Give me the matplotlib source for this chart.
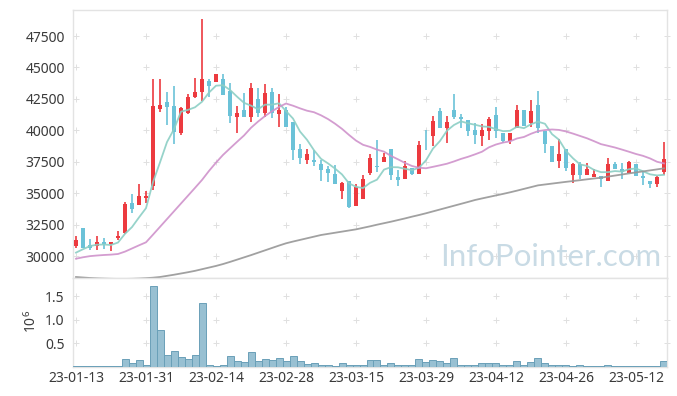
import matplotlib
matplotlib.use("Agg")
import matplotlib.pyplot as plt
import numpy as np
import pandas as pd

# ---------------- data ----------------
opens = [30795, 32203, 30875, 30820, 31090, 30955, 31430, 31805, 34190, 34080,
         34613, 35590, 41690, 42250, 41930, 39810, 41400, 42670, 43045, 43920,
         43865, 44055, 43150, 41080, 41610, 41080, 42490, 41400, 43045, 41300,
         41610, 40660, 38510, 37636, 37636, 37340, 36920, 36545, 35190, 35965,
         34000, 34560, 36600, 37135, 37480, 38510, 36280, 36125, 37020, 36545,
         39490, 39570, 41530, 40200, 41610, 41080, 40820, 40000, 39545, 39970,
         41210, 39810, 39170, 40200, 41610, 40555, 41980, 39940, 38750, 37555,
         38510, 36470, 37320, 36470, 36310, 36390, 35990, 37320, 36920, 36625,
         37320, 36360, 35970, 35700, 36705]
highs = [31590, 32203, 31330, 31590, 31430, 31090, 31960, 34270, 34907, 35727,
         35146, 44080, 44100, 43070, 43520, 41880, 42860, 44170, 48820, 44055,
         44480, 44480, 43735, 41955, 42940, 43735, 43340, 43655, 43340, 42860,
         41820, 40660, 38910, 38490, 38430, 37636, 37180, 37260, 35910, 35965,
         35740, 36440, 38113, 39225, 38195, 38510, 36850, 37550, 37020, 39150,
         40000, 41140, 41770, 41140, 42860, 41320, 40820, 40580, 40500, 41050,
         41850, 39810, 39760, 41980, 41610, 42410, 43130, 39940, 38750, 39280,
         38510, 37370, 37480, 37370, 36900, 36390, 37770, 37480, 37430, 37560,
         37320, 36790, 35970, 36360, 39100]
lows = [30610, 30612, 30477, 30477, 30530, 30400, 31270, 31780, 33396, 34030,
        34240, 35250, 41480, 40400, 38880, 39600, 41300, 42600, 42330, 42670,
        43865, 42810, 40600, 39810, 41080, 40630, 41080, 41030, 40950, 40240,
        40280, 37660, 37290, 37290, 37180, 35990, 35910, 35727, 34530, 33820,
        34000, 34560, 36440, 36660, 37480, 36030, 35560, 36125, 36440, 36545,
        38460, 38750, 40200, 38960, 40900, 40190, 39550, 38940, 38780, 39230,
        39360, 38970, 38900, 40200, 40340, 40290, 39760, 38230, 37500, 37000,
        36760, 35800, 36125, 36470, 36310, 35520, 35990, 36900, 36150, 36625,
        36390, 35620, 35415, 35490, 36470]
closes = [31272, 30612, 30660, 31090, 30930, 31090, 31590, 34136, 33765, 34772,
          34772, 41930, 42010, 41850, 39890, 41750, 42620, 43045, 44055, 43545,
          44480, 42810, 41160, 41400, 41080, 43360, 41400, 42965, 41400, 41610,
          40280, 38430, 37795, 38113, 37450, 36865, 36625, 35727, 35780, 33900,
          35490, 36125, 37795, 37055, 37900, 36470, 36070, 37180, 36545, 38830,
          39440, 40740, 40200, 40660, 41080, 40870, 39970, 39625, 39995, 40900,
          39970, 39170, 39760, 41610, 40340, 41530, 40200, 38910, 37500, 38115,
          37025, 37320, 36470, 36920, 36520, 36125, 37320, 36900, 36705, 37480,
          36390, 36230, 35700, 36260, 37715]
volumes = [0.018, 0.018, 0.018, 0.011, 0.011, 0.011, 0.018, 0.167, 0.067, 0.131,
           0.040, 1.706, 0.770, 0.238, 0.323, 0.195, 0.153, 0.238, 1.344, 0.040,
           0.020, 0.040, 0.216, 0.110, 0.089, 0.302, 0.110, 0.153, 0.131, 0.174,
           0.110, 0.216, 0.110, 0.053, 0.067, 0.025, 0.025, 0.018, 0.067, 0.040,
           0.040, 0.025, 0.131, 0.131, 0.040, 0.067, 0.025, 0.040, 0.025, 0.153,
           0.089, 0.131, 0.110, 0.067, 0.174, 0.040, 0.040, 0.040, 0.067, 0.067,
           0.067, 0.025, 0.025, 0.110, 0.040, 0.089, 0.174, 0.067, 0.040, 0.040,
           0.025, 0.011, 0.025, 0.011, 0.011, 0.011, 0.025, 0.011, 0.005, 0.011,
           0.011, 0.011, 0.011, 0.005, 0.110]
# moving-average values read where the window precedes the shown data
ma5_head = [30270, 30540, 30790, 30900]
ma20_head = [29785, 29900, 29990, 30040, 30080, 30110, 30160, 30350, 30600, 30850,
             31090, 31700, 32320, 32940, 33560, 34180, 34800, 35420, 36050]
ma_long = [28330, 28290, 28250, 28220, 28200, 28185, 28175, 28175, 28185, 28205,
           28235, 28275, 28330, 28420, 28510, 28610, 28710, 28820, 28950, 29080,
           29210, 29360, 29530, 29710, 29890, 30070, 30260, 30450, 30640, 30830,
           31010, 31150, 31280, 31410, 31540, 31670, 31760, 31850, 31940, 32030,
           32120, 32240, 32360, 32490, 32610, 32730, 32860, 32990, 33130, 33260,
           33400, 33550, 33700, 33850, 34000, 34150, 34300, 34455, 34580, 34700,
           34820, 34940, 35065, 35200, 35340, 35480, 35620, 35690, 35760, 35830,
           35900, 35965, 36030, 36100, 36165, 36230, 36315, 36400, 36485, 36570,
           36650, 36730, 36810, 36890, 36975]
tick_labels = ["23-01-13", "23-01-31", "23-02-14", "23-02-28", "23-03-15",
               "23-03-29", "23-04-12", "23-04-26", "23-05-12"]
price_ticks = [30000, 32500, 35000, 37500, 40000, 42500, 45000, 47500]
vol_ticks = [0.5, 1.0, 1.5]

# ---------------- derived ----------------
n = len(closes)
idx = np.arange(n)
cs = pd.Series(closes, dtype=float)
ma5 = cs.rolling(5).mean().to_numpy()
ma5[:len(ma5_head)] = ma5_head
ma20 = cs.rolling(20).mean().to_numpy()
ma20[:len(ma20_head)] = ma20_head
xt = np.arange(0, 10 * len(tick_labels), 10)

# ---------------- style ----------------
UP = "#ec3a3f"
DOWN = "#6bc2d8"
FRAME = "#e3e3e3"
TXT = "#3a3a3a"
FONT = "Noto Sans"

W, H = 677, 396
fig = plt.figure(figsize=(W / 100, H / 100), dpi=100)
L, R = 73, 667
T_main, B_main, B_vol = 10, 278, 366.5
ax = fig.add_axes([L / W, (H - B_main) / H, (R - L) / W, (B_main - T_main) / H])
axv = fig.add_axes([L / W, (H - B_vol) / H, (R - L) / W, (B_vol - B_main) / H])

xlim = (-0.43, 84.43)
for a in (ax, axv):
    a.set_xlim(*xlim)
    for s in a.spines.values():
        s.set_color(FRAME)
        s.set_linewidth(1.0)
    a.tick_params(length=0, colors=TXT)

ax.set_ylim(28250, 49570)
axv.set_ylim(0, 1.883)

# grid crosses
gx = list(xt) + [xlim[1]]
for a, yt in ((ax, price_ticks), (axv, vol_ticks)):
    X, Y = np.meshgrid(gx, yt)
    a.scatter(X.ravel(), Y.ravel(), marker="+", s=18, color="#e0e0e0",
              linewidths=0.7, zorder=0, clip_on=False)

# candles
colors = [UP if c >= o else DOWN for o, c in zip(opens, closes)]
ax.vlines(idx, lows, highs, colors=colors, linewidth=1.2, zorder=3)
bottoms = np.minimum(opens, closes)
heights = np.maximum(np.abs(np.array(closes) - np.array(opens)), 50)
ax.bar(idx, heights, bottom=bottoms, width=0.7, color=colors, linewidth=0, zorder=4)

# moving averages
ax.plot(idx, ma5, color="#8ccfc5", lw=1.3, alpha=0.9, zorder=5)
ax.plot(idx, ma20, color="#cf92cb", lw=1.3, alpha=0.9, zorder=5)
ax.plot(idx, ma_long, color="#979797", lw=1.3, alpha=0.9, zorder=5)

ax.set_yticks(price_ticks)
ax.set_yticklabels([str(v) for v in price_ticks], fontsize=10, family=FONT)
ax.set_xticks([])
ax.tick_params(axis="y", pad=6)

# watermark
ax.text(0.805, 0.08, "InfoPointer.com", transform=ax.transAxes, ha="center",
        va="center", fontsize=22.5, color="#c9dbe5", family="Lato", zorder=1)

# volume
axv.bar(idx, volumes, width=1.0, color="#98c0d2", edgecolor="#6aa0b8",
        linewidth=0.7, zorder=3)
axv.set_yticks(vol_ticks)
axv.set_yticklabels([f"{v:.1f}" for v in vol_ticks], fontsize=10, family=FONT)
axv.set_xticks(xt)
axv.set_xticklabels(tick_labels, fontsize=10, family=FONT)
axv.tick_params(axis="y", pad=6)
axv.tick_params(axis="x", pad=3)
fig.text(32 / W, (H - 321) / H, r"$\mathregular{10^6}$", rotation=90,
         ha="center", va="center", fontsize=10, color=TXT, family=FONT)

fig.savefig("out.png", dpi=100)
